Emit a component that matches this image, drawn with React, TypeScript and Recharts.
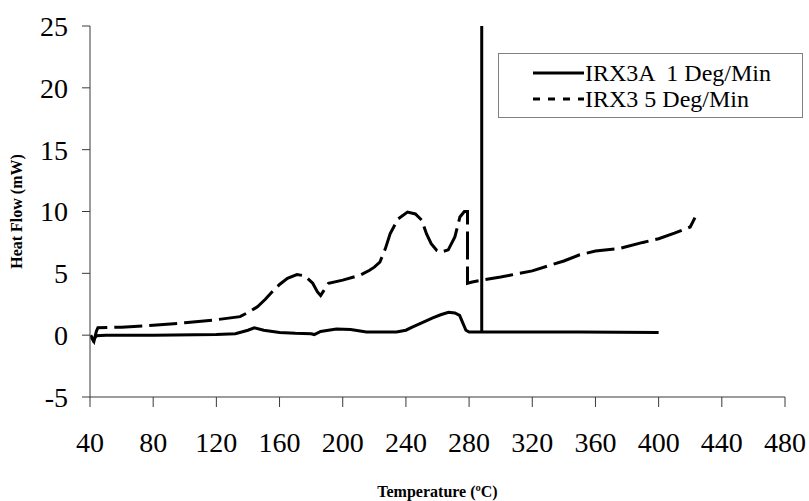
import { LineChart, Line, XAxis, YAxis, Legend, Label } from 'recharts'

// DSC traces

const SERIF = 'Liberation Serif'
const INK = '#000000'
const AXIS = '#3a3a3a'

const xTicks = [40, 80, 120, 160, 200, 240, 280, 320, 360, 400, 440, 480]
const yTicks = [-5, 0, 5, 10, 15, 20, 25]

// IRX3A 1 Deg/Min (solid)
const slowTemp = [
  40.5, 42, 44, 50, 80, 120, 132, 140, 144, 150, 160, 170, 180, 182, 186, 196, 205, 215, 234, 240,
  244, 250, 257, 262, 267, 271, 274, 276, 278, 280, 288, 288, 288, 300, 350, 400,
]
const slowFlow = [
  0, -0.4, -0.05, 0, 0, 0.05, 0.12, 0.4, 0.6, 0.4, 0.22, 0.15, 0.12, 0.05, 0.3, 0.5, 0.45, 0.25, 0.25,
  0.4, 0.65, 1.0, 1.4, 1.65, 1.85, 1.8, 1.6, 1.0, 0.4, 0.25, 0.25, 25, 0.25, 0.25, 0.25, 0.22,
]

// IRX3 5 Deg/Min (dashed)
const fastTemp = [
  41, 42.5, 44, 45, 60, 80, 100, 120, 135, 141, 146, 151, 156, 160, 165, 171, 176, 181, 184, 186, 188,
  191, 200, 211, 217, 220, 223.5, 227, 230, 235, 241, 246, 250, 253, 256, 259.6, 262, 266.8, 271,
  274.2, 277, 279, 279, 282, 288, 300, 320, 340, 350, 360, 375, 390, 400, 410, 420, 423,
]
const fastFlow = [
  -0.2, -0.5, 0.3, 0.6, 0.65, 0.8, 1.0, 1.25, 1.5, 1.9, 2.3, 2.9, 3.6, 4.1, 4.6, 4.9, 4.8, 4.2, 3.5,
  3.2, 3.6, 4.2, 4.45, 4.85, 5.25, 5.5, 5.9, 7.0, 8.2, 9.4, 9.95, 9.8, 9.3, 8.2, 7.4, 6.85, 6.7, 6.9,
  7.95, 9.56, 10.0, 10.0, 4.2, 4.3, 4.45, 4.7, 5.2, 6.0, 6.5, 6.8, 7.0, 7.5, 7.8, 8.25, 8.75, 9.5,
]

const slowData = slowTemp.map((t, i) => ({ t, v: slowFlow[i] }))
const fastData = fastTemp.map((t, i) => ({ t, v: fastFlow[i] }))

const tickStyle = { fontSize: 28, fill: INK, style: { fontFamily: SERIF } }

function LegendBox() {
  const rows = [
    { name: 'IRX3A  1 Deg/Min', dash: undefined },
    { name: 'IRX3 5 Deg/Min', dash: '7 8' },
  ]
  return (
    <div
      style={{
        border: '1px solid #808080',
        background: '#fff',
        width: 305,
        height: 65,
        boxSizing: 'border-box',
        fontFamily: SERIF,
        fontSize: 24,
        color: INK,
        paddingTop: 6,
      }}
    >
      {rows.map((r) => (
        <div key={r.name} style={{ display: 'flex', alignItems: 'center', height: 26 }}>
          <svg width={86} height={20} style={{ flex: 'none' }}>
            <line x1={34} x2={85} y1={10} y2={10} stroke={INK} strokeWidth={3} strokeDasharray={r.dash} />
          </svg>
          <span style={{ whiteSpace: 'pre', lineHeight: '26px', fontFamily: SERIF }}>{r.name}</span>
        </div>
      ))}
    </div>
  )
}

export default function App() {
  return (
    <div
      style={{
        position: 'absolute',
        left: 0,
        top: 0,
        width: 809,
        height: 501,
        background: '#fff',
        fontFamily: SERIF,
      }}
    >
      <LineChart width={809} height={501} margin={{ top: 26, right: 24, left: 0, bottom: 0 }} style={{ fontFamily: SERIF }}>
        <XAxis
          type="number"
          dataKey="t"
          domain={[40, 480]}
          ticks={xTicks}
          interval={0}
          allowDataOverflow
          height={104}
          tick={tickStyle}
          tickSize={10}
          tickMargin={25}
          stroke={AXIS}
        >
          <Label
            content={({ viewBox }: any) => (
              <text
                x={viewBox.x + viewBox.width / 2}
                y={497}
                textAnchor="middle"
                style={{ fontFamily: SERIF }}
                fontWeight="bold"
                fontSize={16}
                fill={INK}
              >
                Temperature (ºC)
              </text>
            )}
          />
        </XAxis>
        <YAxis
          type="number"
          domain={[-5, 25]}
          ticks={yTicks}
          interval={0}
          allowDataOverflow
          width={90}
          tick={tickStyle}
          tickSize={8}
          tickMargin={14}
          stroke={AXIS}
        >
          <Label
            content={({ viewBox }: any) => {
              const cy = viewBox.y + viewBox.height / 2
              return (
                <text
                  x={22}
                  y={cy}
                  transform={`rotate(-90 22 ${cy})`}
                  textAnchor="middle"
                  style={{ fontFamily: SERIF }}
                  fontWeight="bold"
                  fontSize={16}
                  fill={INK}
                >
                  Heat Flow (mW)
                </text>
              )
            }}
          />
        </YAxis>
        <Legend
          layout="vertical"
          align="center"
          verticalAlign="middle"
          wrapperStyle={{ left: 498, top: 53, width: 305, height: 65 }}
          content={() => <LegendBox />}
        />
        <Line
          data={slowData}
          dataKey="v"
          name="IRX3A  1 Deg/Min"
          type="linear"
          stroke={INK}
          strokeWidth={3}
          dot={false}
          activeDot={false}
          isAnimationActive={false}
        />
        <Line
          data={fastData}
          dataKey="v"
          name="IRX3 5 Deg/Min"
          type="linear"
          stroke={INK}
          strokeWidth={3}
          strokeDasharray="28 7"
          dot={false}
          activeDot={false}
          isAnimationActive={false}
        />
      </LineChart>
    </div>
  )
}
